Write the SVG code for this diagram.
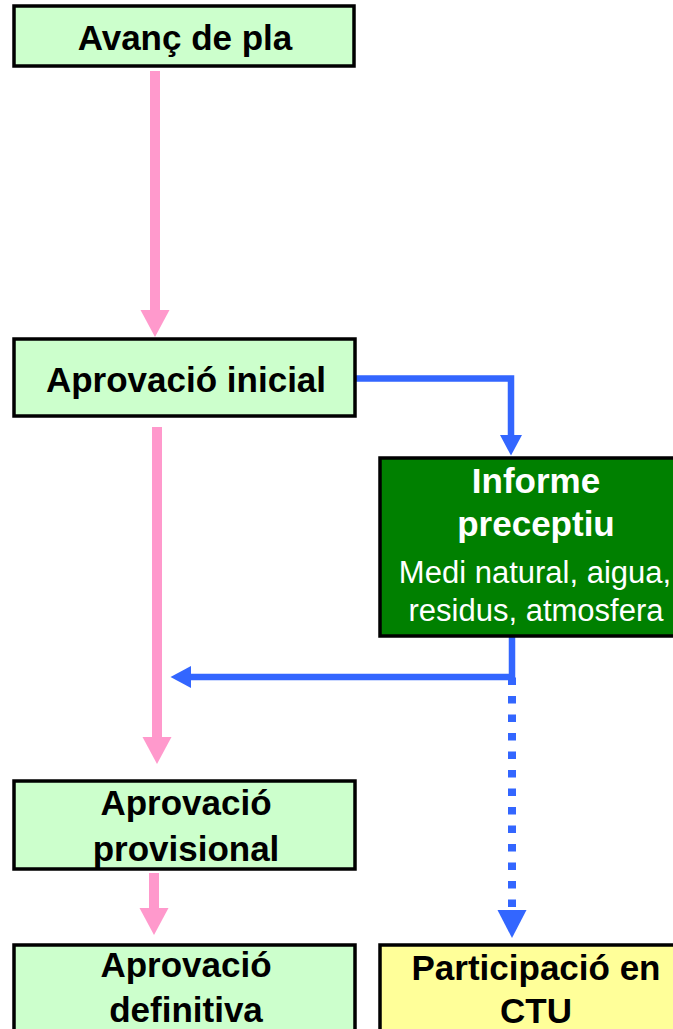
<svg xmlns="http://www.w3.org/2000/svg" width="673" height="1029" viewBox="0 0 673 1029">
<defs>
<style>
.box{stroke:#000;stroke-width:3.5}
.lg{fill:#CCFFCC}
.dg{fill:#008000}
.yl{fill:#FFFF99}
.t{font-family:"Liberation Sans",Arial,sans-serif;font-weight:bold;font-size:35px;text-anchor:middle;fill:#000}
.tw{fill:#fff}
.ts{font-family:"Liberation Sans",Arial,sans-serif;font-size:31px;text-anchor:middle;fill:#fff}
.pink{stroke:#FF99CC;stroke-width:10;fill:none}
.blue{stroke:#3366FF;stroke-width:6.5;fill:none;stroke-linejoin:miter}
.dots{stroke:#3366FF;stroke-width:8;fill:none;stroke-dasharray:7.5 11}
</style>
<marker id="ph" markerUnits="userSpaceOnUse" markerWidth="28" markerHeight="29" refX="0" refY="14.5" orient="auto" overflow="visible">
<path d="M0,0 L27,14.5 L0,29 Z" fill="#FF99CC"/>
</marker>
<marker id="bh" markerUnits="userSpaceOnUse" markerWidth="21" markerHeight="22" refX="0" refY="11" orient="auto" overflow="visible">
<path d="M0,0 L20.5,11 L0,22 Z" fill="#3366FF"/>
</marker>
<marker id="bhl" markerUnits="userSpaceOnUse" markerWidth="28" markerHeight="29" refX="0" refY="14.5" orient="auto" overflow="visible">
<path d="M0,0 L28,14.5 L0,29 Z" fill="#3366FF"/>
</marker>
</defs>
<rect width="673" height="1029" fill="#fff"/>
<g id="connectors">
<line class="pink" x1="155" y1="71" x2="155" y2="310" marker-end="url(#ph)"/>
<line class="pink" x1="157" y1="427" x2="157" y2="737" marker-end="url(#ph)"/>
<line class="pink" x1="154" y1="873" x2="154" y2="908" marker-end="url(#ph)"/>
<path class="blue" d="M356,378.5 H511 V435" marker-end="url(#bh)"/>
<path class="blue" d="M512,637 V677 H191" marker-end="url(#bh)"/>
<line class="dots" x1="512" y1="677.5" x2="512" y2="910" marker-end="url(#bhl)"/>
</g>
<g id="avanc">
<rect class="box lg" x="14" y="6" width="340" height="60"/>
<text class="t" x="185" y="50">Avanç de pla</text>
</g>
<g id="inicial">
<rect class="box lg" x="14" y="339" width="341" height="77"/>
<text class="t" x="186" y="392">Aprovació inicial</text>
</g>
<g id="informe">
<rect class="box dg" x="380" y="458" width="312" height="178"/>
<text class="t tw" x="536" y="493">Informe</text>
<text class="t tw" x="536" y="536">preceptiu</text>
<text class="ts" x="535" y="583">Medi natural, aigua,</text>
<text class="ts" x="536" y="621">residus, atmosfera</text>
</g>
<g id="provisional">
<rect class="box lg" x="14" y="781" width="341" height="88"/>
<text class="t" x="186" y="815">Aprovació</text>
<text class="t" x="186" y="861">provisional</text>
</g>
<g id="definitiva">
<rect class="box lg" x="14" y="945" width="341" height="100"/>
<text class="t" x="186" y="977">Aprovació</text>
<text class="t" x="186" y="1022">definitiva</text>
</g>
<g id="ctu">
<rect class="box yl" x="380" y="945" width="312" height="100"/>
<text class="t" x="536" y="980">Participació en</text>
<text class="t" x="536" y="1023">CTU</text>
</g>
</svg>
